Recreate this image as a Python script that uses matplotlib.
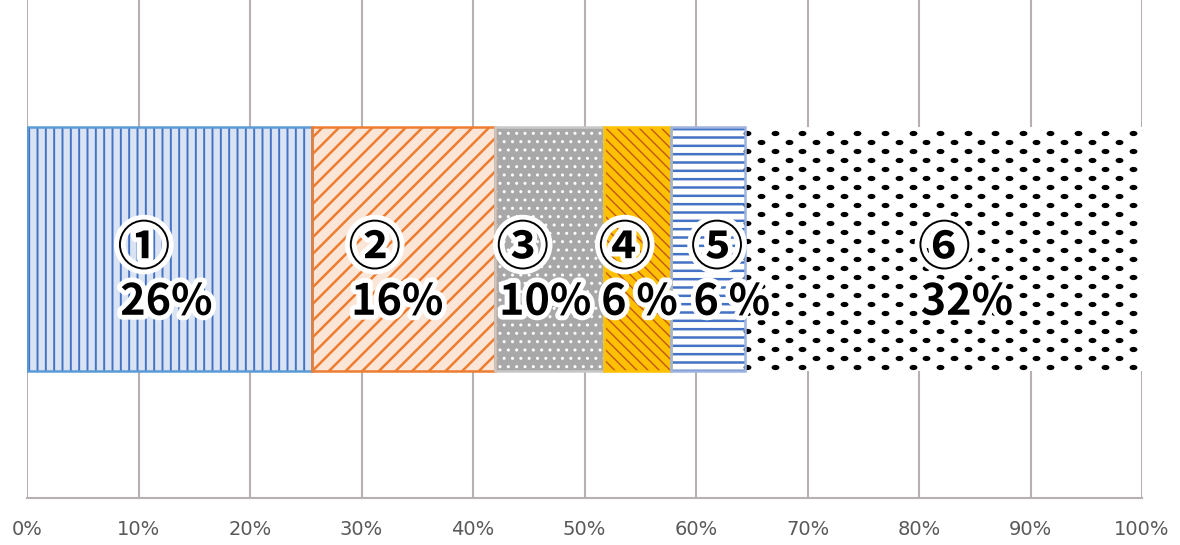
import matplotlib.pyplot as plt
import matplotlib.patheffects as pe
from matplotlib.path import Path
import numpy as np

# segment widths (percent of the bar) and their printed labels
shares = [25.6, 16.4, 9.75, 6.05, 6.6, 35.6]
marks = ['①', '②', '③', '④', '⑤', '⑥']
pct_labels = ['26%', '16%', '10%', '6 %', '6 %', '32%']
ticks = np.arange(0, 101, 10)

# look of each segment
faces = ['#dae3f3', '#fbe5d6', '#a8a8a8', '#ffc000', '#ffffff', '#ffffff']
hatch_colors = ['#4472c4', '#ed7d31', '#ffffff', '#c0561e', '#4472c4', '#ffffff']
hatches = ['||', '//', '..', '\\\\\\', '--', '']
hatch_lw = [1.4, 1.8, 1.0, 1.0, 1.8, 1.0]
edges = ['#5b9bd5', '#ed7d31', '#c8c8c8', '#ffc000', '#9db3e0', 'none']
label_dx = [-0.3, -0.6, -0.4, 0.15, 2.1, 2.1]

BAR_H = 0.49
halo = [pe.withStroke(linewidth=7, foreground='white')]
jp = ['Noto Sans CJK JP', 'DejaVu Sans']

fig = plt.figure(figsize=(11.8, 5.45), dpi=100, facecolor='w')
ax = fig.add_axes([27 / 1180, 47 / 545, 1115 / 1180, 498 / 545])

lefts = np.concatenate([[0], np.cumsum(shares)[:-1]])
for i in range(len(shares)):
    # hatch takes the edge colour, so draw fill+hatch first, outline after
    b = ax.barh(0, shares[i], left=lefts[i], height=BAR_H, color=faces[i],
                edgecolor=hatch_colors[i], linewidth=0, hatch=hatches[i] or None,
                zorder=2)
    for p in b:
        try:
            p.set_hatch_linewidth(hatch_lw[i])
        except AttributeError:
            pass
    if edges[i] != 'none':
        ax.barh(0, shares[i], left=lefts[i], height=BAR_H, fill=False,
                edgecolor=edges[i], linewidth=1.8, zorder=3)

# last segment: staggered black dots, wider apart across than down
oval = Path(Path.unit_circle().vertices * [1.5, 1.0], Path.unit_circle().codes)
step_x, step_y = 2.47, 0.0181
rows = np.arange(-BAR_H / 2 + 0.008, BAR_H / 2, step_y)
px, py = [], []
for k, y in enumerate(rows):
    xs = np.arange(lefts[5] + 0.2 + (k % 2) * step_x / 2, 100, step_x)
    px.extend(xs)
    py.extend([y] * len(xs))
ax.scatter(px, py, s=32, marker=oval, color='black', linewidths=0, zorder=2.5)

for i in range(len(shares)):
    t = ax.text(lefts[i] + shares[i] / 2 + label_dx[i], -0.106, pct_labels[i],
                ha='center', va='center', fontsize=31, fontweight='bold',
                family=jp, color='black', zorder=5, path_effects=halo)
    ax.annotate(marks[i], xy=(0, 1), xycoords=t, xytext=(-2, 3),
                textcoords='offset points', ha='left', va='bottom',
                fontsize=38, fontweight='bold', family=jp, color='black',
                zorder=5, path_effects=halo)

ax.set_xlim(0, 100)
ax.set_ylim(-0.5, 0.5)
ax.set_xticks(ticks)
ax.set_xticklabels([f'{t}%' for t in ticks], fontsize=14, color='#595959')
ax.set_yticks([])
ax.tick_params(axis='x', length=0, pad=16)
ax.grid(axis='x', color='#b8b0b0', linewidth=1.5, zorder=0)
ax.set_axisbelow(True)
for s in ['top', 'left', 'right']:
    ax.spines[s].set_visible(False)
ax.spines['bottom'].set_color('#b8b0b0')
ax.spines['bottom'].set_linewidth(1.5)

plt.savefig('out.png', dpi=100, facecolor='w')
plt.close()
